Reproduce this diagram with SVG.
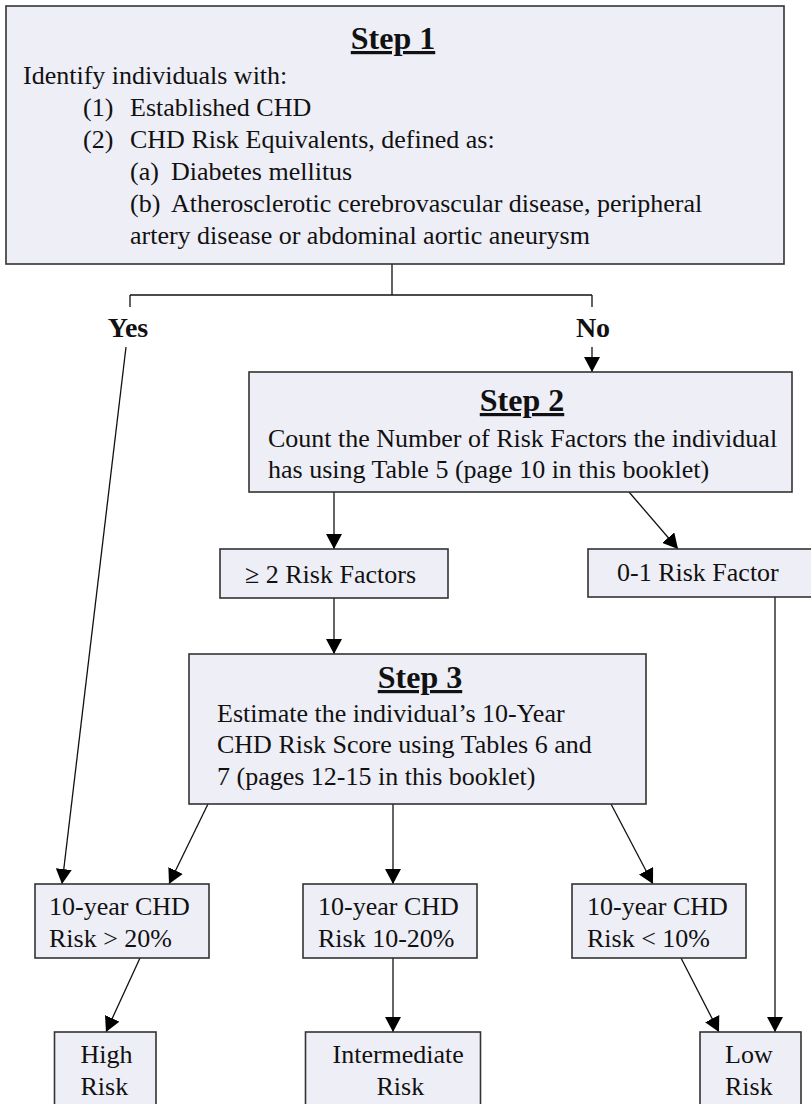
<svg xmlns="http://www.w3.org/2000/svg" width="811" height="1104" viewBox="0 0 811 1104">
<style>
.box{fill:#eeeef7;stroke:#333;stroke-width:1.6}
.t{font-family:"Liberation Serif","Times New Roman",serif;font-size:26px;fill:#111}
.h{font-family:"Liberation Serif","Times New Roman",serif;font-size:32px;font-weight:bold;fill:#111;text-anchor:middle;text-decoration:underline}
.yn{font-family:"Liberation Serif","Times New Roman",serif;font-size:28px;font-weight:bold;fill:#111;text-anchor:middle}
.c{fill:none;stroke:#111;stroke-width:1.3}
.a{marker-end:url(#arr)}
</style>
<defs>
<marker id="arr" markerUnits="userSpaceOnUse" markerWidth="15" markerHeight="16" refX="15" refY="8" orient="auto" viewBox="0 0 15 16">
<path d="M0,0 L15,8 L0,16 z" fill="#000"/>
</marker>
</defs>
<rect width="811" height="1104" fill="#fff"/>

<g id="connectors">
<path class="c" d="M392,264 V295 M130,295 H592 M130,295 V307 M592,295 V307"/>
<path class="c a" d="M126,347 L62,884"/>
<path class="c a" d="M592,347 V372"/>
<path class="c a" d="M334,492 V549"/>
<path class="c a" d="M629,492 L678,549"/>
<path class="c a" d="M334,598 V654"/>
<path class="c a" d="M775,597 V1032"/>
<path class="c a" d="M208,804 L169,884"/>
<path class="c a" d="M393,804 V884"/>
<path class="c a" d="M611,804 L653,884"/>
<path class="c a" d="M140,958 L106,1032"/>
<path class="c a" d="M393,958 V1032"/>
<path class="c a" d="M681,958 L719,1032"/>
<text class="yn" x="128" y="337">Yes</text>
<text class="yn" x="593" y="337">No</text>
</g>

<g id="step1">
<rect class="box" x="6" y="6" width="778" height="258"/>
<text class="h" x="393" y="49">Step 1</text>
<text class="t" x="23" y="84">Identify individuals with:</text>
<text class="t" x="83" y="116">(1)</text>
<text class="t" x="130" y="116">Established CHD</text>
<text class="t" x="83" y="148">(2)</text>
<text class="t" x="130" y="148">CHD Risk Equivalents, defined as:</text>
<text class="t" x="130" y="180">(a)</text>
<text class="t" x="171" y="180">Diabetes mellitus</text>
<text class="t" x="130" y="212">(b)</text>
<text class="t" x="171" y="212">Atherosclerotic cerebrovascular disease, peripheral</text>
<text class="t" x="130" y="244">artery disease or abdominal aortic aneurysm</text>
</g>

<g id="step2">
<rect class="box" x="249" y="372" width="543" height="120"/>
<text class="h" x="522" y="411">Step 2</text>
<text class="t" x="268" y="447">Count the Number of Risk Factors the individual</text>
<text class="t" x="268" y="478">has using Table 5 (page 10 in this booklet)</text>
</g>

<g id="rf2">
<rect class="box" x="220" y="549" width="228" height="49"/>
<text class="t" x="245" y="583">≥ 2 Risk Factors</text>
</g>

<g id="rf01">
<rect class="box" x="588" y="549" width="240" height="48"/>
<text class="t" x="617" y="581">0-1 Risk Factor</text>
</g>

<g id="step3">
<rect class="box" x="189" y="654" width="457" height="150"/>
<text class="h" x="420" y="688">Step 3</text>
<text class="t" x="217" y="722">Estimate the individual’s 10-Year</text>
<text class="t" x="217" y="753">CHD Risk Score using Tables 6 and</text>
<text class="t" x="217" y="785">7 (pages 12-15 in this booklet)</text>
</g>

<g id="risk20">
<rect class="box" x="35" y="884" width="174" height="74"/>
<text class="t" x="49" y="915">10-year CHD</text>
<text class="t" x="49" y="947">Risk &gt; 20%</text>
</g>

<g id="risk1020">
<rect class="box" x="303" y="884" width="174" height="74"/>
<text class="t" x="318" y="915">10-year CHD</text>
<text class="t" x="318" y="947">Risk 10-20%</text>
</g>

<g id="risk10">
<rect class="box" x="572" y="884" width="174" height="74"/>
<text class="t" x="587" y="915">10-year CHD</text>
<text class="t" x="587" y="947">Risk &lt; 10%</text>
</g>

<g id="high">
<rect class="box" x="54.5" y="1032" width="101.5" height="90"/>
<text class="t" x="80.5" y="1063">High</text>
<text class="t" x="80.5" y="1095">Risk</text>
</g>

<g id="intermediate">
<rect class="box" x="305.5" y="1032" width="175" height="90"/>
<text class="t" x="332.5" y="1063">Intermediate</text>
<text class="t" x="376.5" y="1095">Risk</text>
</g>

<g id="low">
<rect class="box" x="700" y="1032" width="101" height="90"/>
<text class="t" x="725" y="1063">Low</text>
<text class="t" x="725" y="1095">Risk</text>
</g>
</svg>
